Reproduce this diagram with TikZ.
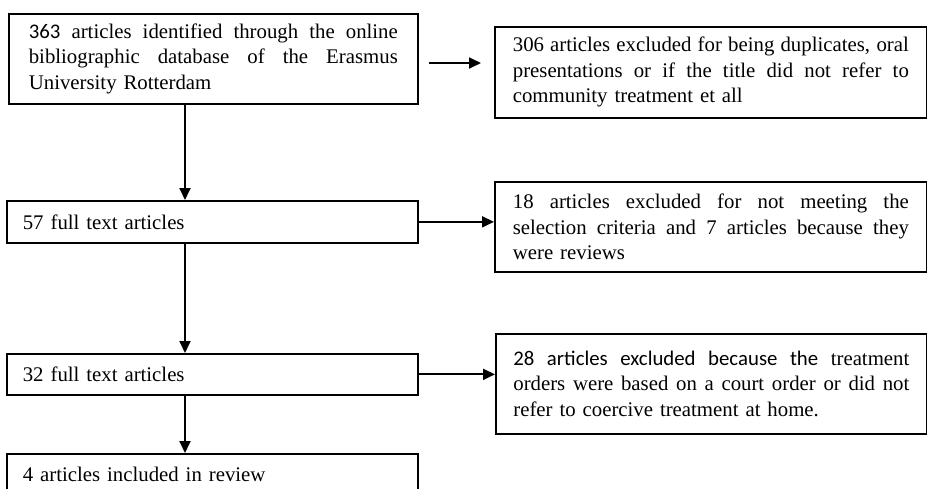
\documentclass[tikz,border=0pt]{standalone}
\usepackage{fontspec}
\setmainfont{Liberation Serif}
\newfontfamily\calfont{Carlito}
\usetikzlibrary{arrows.meta}
\tikzset{
  flowbox/.style={draw, line width=0.85pt, anchor=north west, align=left,
    font=\fontsize{10.4pt}{12.75pt}\selectfont, inner ysep=0pt},
  flowarrow/.style={line width=0.9pt, -{Triangle[length=6pt,width=5.5pt]}},
}
\newcommand{\jline}[2]{\leavevmode\hbox to #1{\spaceskip=0.25em plus 1em minus 0.05em\relax #2}}
\begin{document}
\begin{tikzpicture}[x=0.5pt,y=-0.5pt]
\clip (0,0) rectangle (927,488);
\useasboundingbox (0,0) rectangle (927,488);
% left column
\node[flowbox, text width=184.5pt, inner xsep=10pt, minimum height=45pt] (b1) at (8,13)
  {\jline{184.5pt}{{\calfont 363} articles identified through the online}\\
   \jline{184.5pt}{bibliographic database of the Erasmus}\\
   University Rotterdam};
\node[flowbox, text width=189.5pt, inner xsep=8pt, minimum height=21pt] (b57) at (6,200)
  {57 full text articles};
\node[flowbox, text width=189.5pt, inner xsep=8pt, minimum height=20.5pt] (b32) at (6,353)
  {32 full text articles};
\node[flowbox, text width=189.5pt, inner xsep=8pt, minimum height=21pt] (b4) at (6,453)
  {4 articles included in review};
% right column
\node[flowbox, text width=198pt, inner xsep=9pt, minimum height=45.5pt] (b2) at (494,26)
  {\jline{198pt}{306 articles excluded for being duplicates, oral}\\
   \jline{198pt}{presentations or if the title did not refer to}\\
   community treatment et all};
\node[flowbox, text width=198pt, inner xsep=9pt, minimum height=45pt] (b18) at (494,181)
  {\jline{198pt}{18 articles excluded for not meeting the}\\
   \jline{198pt}{selection criteria and 7 articles because they}\\
   were reviews};
\node[flowbox, text width=198pt, inner xsep=8.75pt, minimum height=50pt] (b28) at (495,333)
  {\jline{198pt}{{\calfont 28 articles excluded because the} treatment}\\
   \jline{198pt}{orders were based on a court order or did not}\\
   refer to coercive treatment at home.};
% connectors
\coordinate (vx) at (185,0);
\coordinate (c1a) at (429,63);
\coordinate (c1b) at (481,63);
\draw[flowarrow] (c1a) -- (c1b);
\draw[flowarrow] (b1.south -| vx) -- (b57.north -| vx);
\draw[flowarrow] (b57.south -| vx) -- (b32.north -| vx);
\draw[flowarrow] (b32.south -| vx) -- (b4.north -| vx);
\draw[flowarrow] (b57.east) -- (b57.east -| b18.west);
\draw[flowarrow] (b32.east) -- (b32.east -| b28.west);
\end{tikzpicture}
\end{document}
